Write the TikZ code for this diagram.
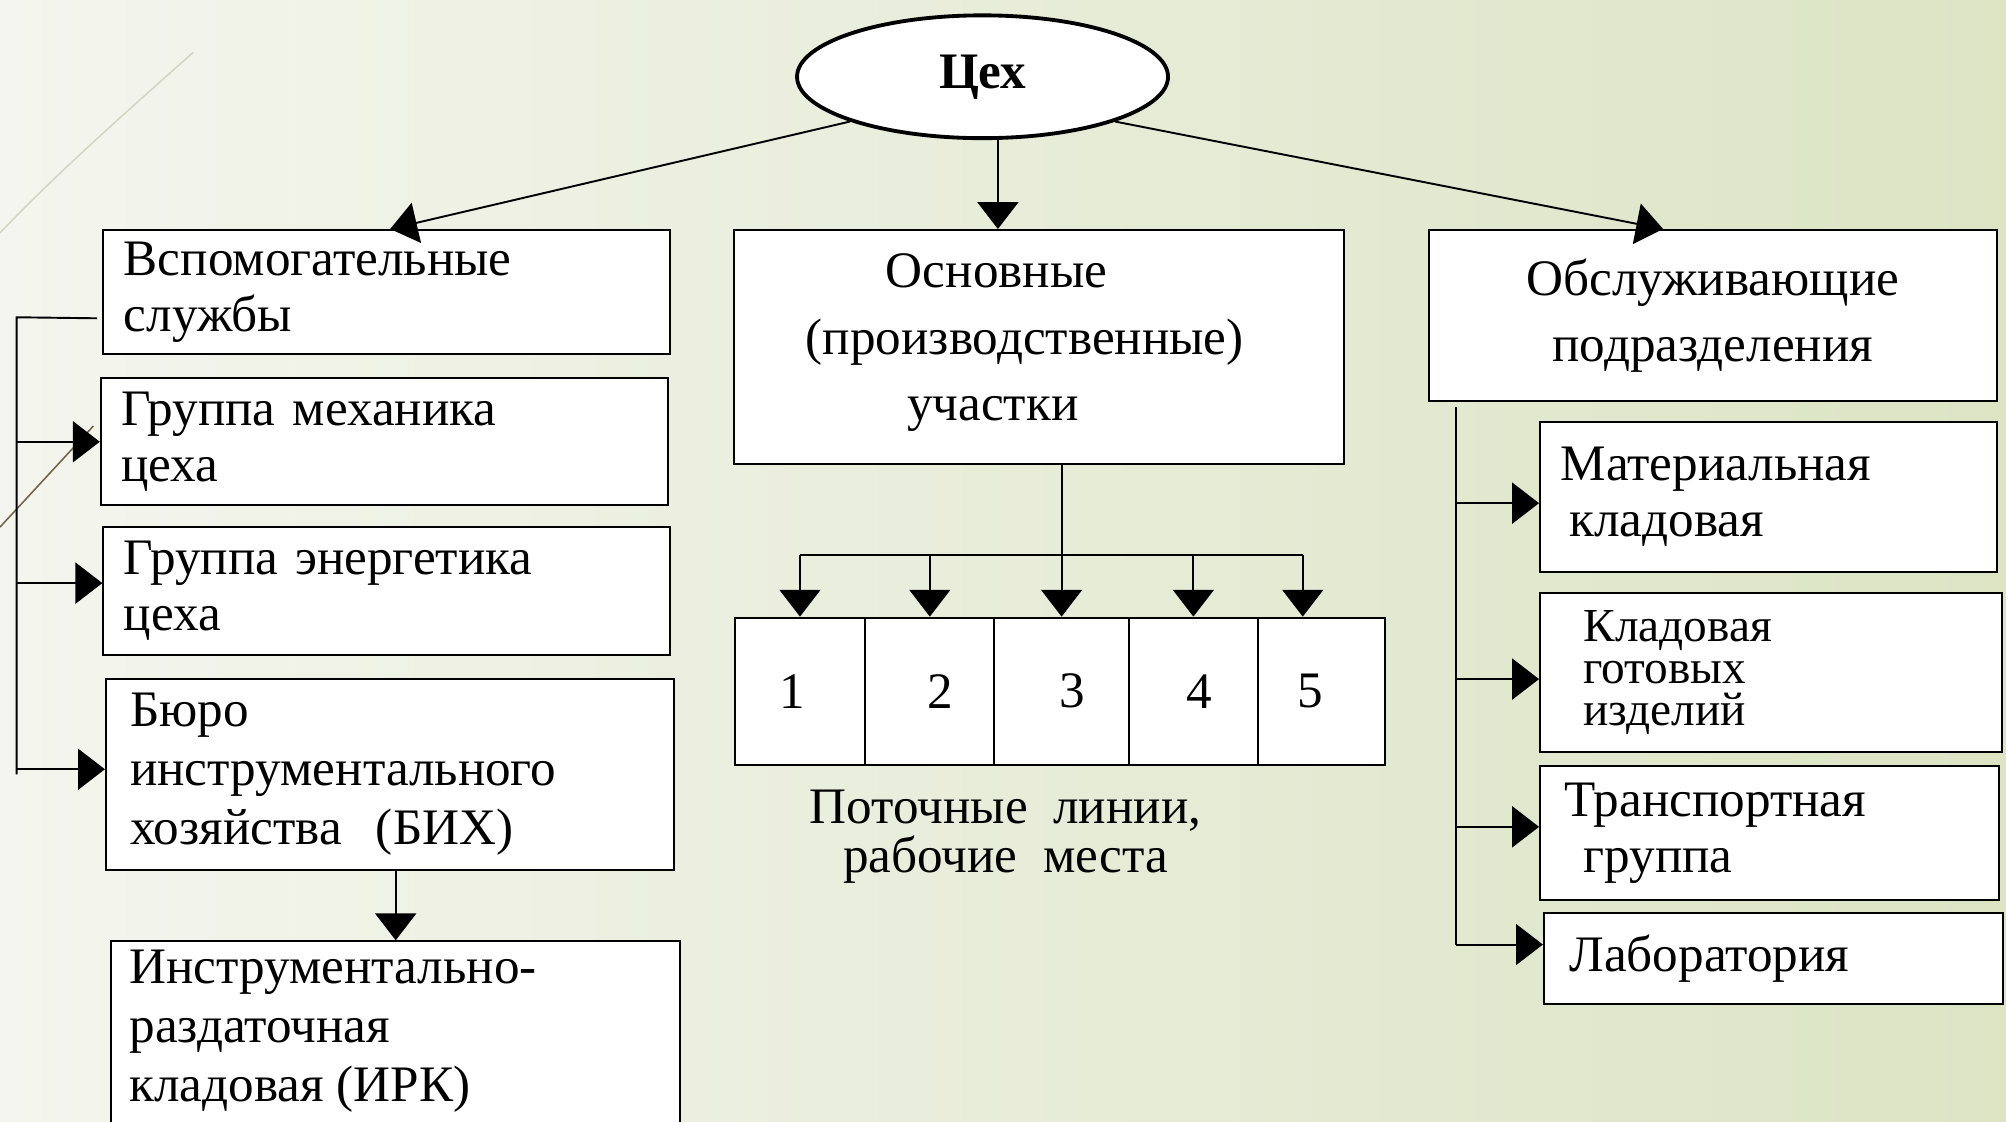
\documentclass[tikz,border=0pt]{standalone}
\usepackage{fontspec}
\setmainfont{Liberation Serif}
\usetikzlibrary{arrows.meta,shapes.geometric,calc}
\definecolor{bgL}{HTML}{F4F5EE}
\definecolor{bgR}{HTML}{DCE4C4}
\definecolor{decoLight}{HTML}{D3D6C4}
\definecolor{decoDark}{HTML}{6E6446}
\begin{document}
\begin{tikzpicture}[x=1pt,y=-1pt,
  every node/.style={font=\fontsize{40}{44}\selectfont},
  box/.style={draw=black, line width=1.6pt, fill=white, rectangle, anchor=north west, inner ysep=0pt, align=left},
  cell/.style={draw=black, line width=1.6pt, fill=white, rectangle, anchor=north west, inner sep=0pt, minimum height=115pt},
  conn/.style={line width=1.5pt, -{Triangle[width=32pt,length=21pt]}},
  wire/.style={line width=1.5pt},
]
\useasboundingbox (0,0) rectangle (1568,877);
\clip (0,0) rectangle (1568,877);
\shade[left color=bgL, right color=bgR] (0,0) rectangle (1568,877);
% decorative template lines
\draw[decoLight, line width=1.2pt] (151,41) .. controls (90,95) and (40,140) .. (0,182);
\draw[decoDark, line width=1.2pt] (73,333) -- (0,412);

% top ellipse
\node[ellipse, draw=black, line width=3pt, fill=white, minimum width=290pt, minimum height=96pt, inner sep=0pt, font=\fontsize{40}{44}\selectfont\bfseries] (ell) at (768,60) {Цех};

% left column
\node[box, minimum width=443pt, minimum height=97pt, text width=411pt, inner xsep=16pt] (b1) at (80,179) {Вспомогательные\\службы};
\node[box, minimum width=443pt, minimum height=99pt, text width=411pt, inner xsep=16pt] (b2) at (78,295) {Группа механика\\цеха};
\node[box, minimum width=443pt, minimum height=100pt, text width=411pt, inner xsep=16pt] (b3) at (80,411) {Группа энергетика\\цеха};
\node[box, minimum width=444pt, minimum height=149pt, text width=406pt, inner xsep=19pt, font=\fontsize{40}{46}\selectfont] (b4) at (82,530) {Бюро\\инструментального\\хозяйства~~(БИХ)};
\node[box, minimum width=445pt, minimum height=180pt] (b5) at (86,735) {};
\node[anchor=west, align=left, font=\fontsize{40}{46}\selectfont, inner sep=0pt] (t5) at (101,806) {Инструментально-\\раздаточная\\кладовая (ИРК)};

% middle column
\node[box, minimum width=477pt, minimum height=183pt, inner sep=0pt] (mid) at (573,179) {};
\node[align=center, font=\fontsize{40}{52}\selectfont, inner sep=0pt] (midtext) at (801,268) {Основные\hspace*{44pt}\\(производственные)\\участки\hspace*{50pt}};

\node[cell, minimum width=102pt] (c1) at (573.5,482) {\hspace*{-12pt}1};
\node[cell, minimum width=101pt] (c2) at (675.5,482) {\hspace*{16pt}2};
\node[cell, minimum width=105pt] (c3) at (776.5,482) {\hspace*{16pt}3};
\node[cell, minimum width=101pt] (c4) at (881.5,482) {\hspace*{10pt}4};
\node[cell, minimum width=99pt] (c5) at (982.5,482) {\hspace*{-18pt}5};
\coordinate (c5t) at ($(c5.north)+(-14.5,0)$);
\node[align=center, font=\fontsize{40}{38}\selectfont, inner sep=0pt] (cap) at (786,654) {Поточные~~линии,\\рабочие~~места};

% right column
\node[box, minimum width=444pt, minimum height=134pt, text width=444pt, inner xsep=0pt, align=center, font=\fontsize{40}{52}\selectfont] (r0) at (1116,179) {Обслуживающие\\подразделения};
\node[box, minimum width=357pt, minimum height=117pt, text width=341pt, inner xsep=8pt] (r1) at (1203,329) {\hspace*{8pt}Материальная\\\hspace*{15pt}кладовая};
\node[box, minimum width=361pt, minimum height=124pt, text width=327pt, inner xsep=17pt, font=\fontsize{37}{33}\selectfont] (r2) at (1203,463) {\hspace*{17pt}Кладовая\\\hspace*{17pt}готовых\\\hspace*{17pt}изделий};
\node[box, minimum width=359pt, minimum height=105pt, text width=321pt, inner xsep=19pt] (r3) at (1203,598) {Транспортная\\\hspace*{15pt}группа};
\node[box, minimum width=359pt, minimum height=71pt, text width=319pt, inner xsep=20pt] (r4) at (1206,713) {Лаборатория};

% connectors from the top
\draw[conn] (ell.south west) -- ($(b1.north west)+(225,0)$);
\draw[conn] ($(ell.south)+(12,0)$) -- ($(mid.north west)+(207,0)$);
\draw[conn] (ell.south east) -- ($(r0.north west)+(184,0)$);

% left bus
\coordinate (lbus) at (13,248);
\draw[wire] ($(b1.west)+(-4,20.5)$) -- (lbus) -- (lbus |- b4.west);
\draw[conn] (lbus |- b2.west) -- (b2.west);
\draw[conn] ($(lbus |- b3.west)+(0,-6)$) -- ($(b3.west)+(0,-6)$);
\draw[conn] ($(lbus |- b4.west)+(0,-4)$) -- ($(b4.west)+(0,-4)$);
\draw[conn] (b4.south -| b5.north) -- (b5.north);

% middle bus
\draw[wire] ($(mid.south)+(17.5,0)$) -- ++(0,70) coordinate (jn);
\draw[wire] (c1.north |- jn) -- (c5t |- jn);
\draw[conn] (c1.north |- jn) -- (c1.north);
\draw[conn] (c2.north |- jn) -- (c2.north);
\draw[conn] (c3.north |- jn) -- (c3.north);
\draw[conn] (c4.north |- jn) -- (c4.north);
\draw[conn] (c5t |- jn) -- (c5t);

% right bus
\coordinate (rbus) at (1138,318);
\draw[wire] (rbus) -- ($(rbus |- r4.west)+(0,-11)$);
\draw[conn] ($(rbus |- r1.west)+(0,5)$) -- ($(r1.west)+(0,5)$);
\draw[conn] ($(rbus |- r2.west)+(0,5)$) -- ($(r2.west)+(0,5)$);
\draw[conn] ($(rbus |- r3.west)+(0,-5)$) -- ($(r3.west)+(0,-5)$);
\draw[conn] ($(rbus |- r4.west)+(0,-11)$) -- ($(r4.west)+(0,-11)$);
\end{tikzpicture}
\end{document}
